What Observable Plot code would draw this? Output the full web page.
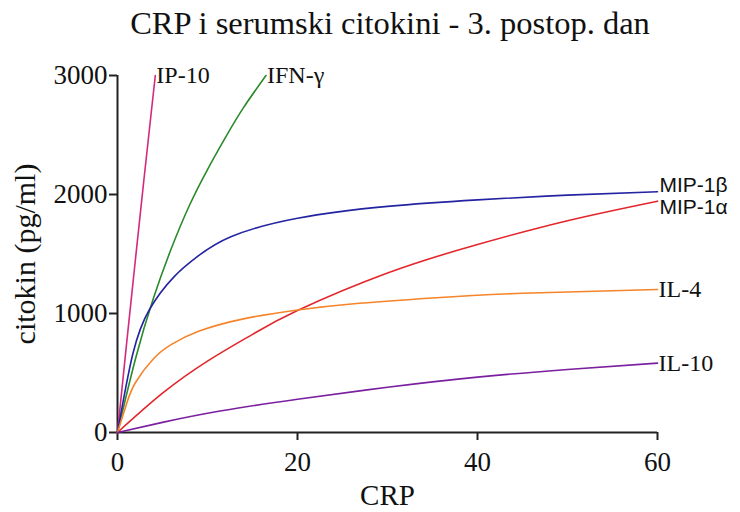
<!DOCTYPE html>
<html><head><meta charset="utf-8">
<script src="https://cdn.jsdelivr.net/npm/d3@7"></script>
<script src="https://cdn.jsdelivr.net/npm/@observablehq/plot@0.6"></script>
<style>
body{margin:0;background:#fff;}
#title{box-sizing:border-box;width:740px;height:50px;font:32.5px "Liberation Serif",serif;line-height:46px;text-align:center;padding-left:40px;color:#111;}
</style></head><body>
<div id="title">CRP i serumski citokini - 3. postop. dan</div>
<div id="chart"></div>
<script>
const seriesNames = ["IP-10", "IFN-γ", "MIP-1β", "MIP-1α", "IL-4", "IL-10"];
const seriesColors = ["#d12a7e", "#2b8a2b", "#2424a2", "#e3262b", "#f5842a", "#7a1fa0"];

const ip10X = [0, 1, 2, 3, 4.2];
const ip10Y = [0, 740, 1460, 2170, 3000];
const ifngX = [0, 2, 4, 6, 8, 10, 12, 14, 16.5];
const ifngY = [0, 620, 1130, 1550, 1910, 2210, 2480, 2730, 3000];
const mip1bX = [0, 1.7, 3.6, 6.3, 8.9, 12.6, 20, 30, 40, 50, 60];
const mip1bY = [0, 660, 1040, 1310, 1480, 1645, 1800, 1900, 1955, 1995, 2023];
const mip1aX = [0, 5, 10, 15, 20, 30, 40, 50, 60];
const mip1aY = [0, 330, 600, 825, 1025, 1340, 1580, 1780, 1944];
const il4X = [0, 1, 2, 4, 6, 9, 14, 20, 26, 35, 45, 60];
const il4Y = [0, 240, 420, 620, 740, 850, 955, 1030, 1080, 1130, 1170, 1202];
const il10X = [0, 5, 11.4, 20, 30, 40, 50, 60];
const il10Y = [0, 85, 180, 280, 380, 465, 530, 583];

const xTicks = [0, 20, 40, 60];
const yTicks = [0, 1000, 2000, 3000];

const seriesX = [ip10X, ifngX, mip1bX, mip1aX, il4X, il10X];
const seriesY = [ip10Y, ifngY, mip1bY, mip1aY, il4Y, il10Y];
const rows = seriesNames.flatMap((name, i) => seriesX[i].map((x, j) => ({name, x, y: seriesY[i][j]})));
const ends = seriesNames.map((name, i) => ({name, x: seriesX[i][seriesX[i].length - 1], y: seriesY[i][seriesY[i].length - 1]}));
const serifLabels = ["IP-10", "IFN-γ", "IL-4", "IL-10"];

const serif = "Liberation Serif";
const sans = "Liberation Sans";

const chart = Plot.plot({
  width: 740,
  height: 462,
  marginTop: 25,
  marginBottom: 80,
  marginLeft: 117,
  marginRight: 83,
  style: {fontFamily: serif, color: "#111", background: "#fff"},
  x: {domain: [0, 60]},
  y: {domain: [0, 3000]},
  color: {domain: seriesNames, range: seriesColors},
  marks: [
    Plot.axisX({ticks: xTicks, tickSize: 8, tickPadding: 11, fontSize: 27, stroke: "#222", strokeWidth: 2, fill: "#111", label: null, tickFormat: d => String(d)}),
    Plot.axisY({ticks: yTicks, tickSize: 8, tickPadding: 2, fontSize: 27, stroke: "#222", strokeWidth: 2, fill: "#111", label: null, tickFormat: d => String(d)}),
    Plot.ruleY([0], {x1: 0, x2: 60, stroke: "#222", strokeWidth: 2}),
    Plot.ruleX([0], {y1: 0, y2: 3000, stroke: "#222", strokeWidth: 2}),
    Plot.line(rows, {x: "x", y: "y", z: "name", stroke: "name", curve: "natural", strokeWidth: 1.6}),
    Plot.text(ends.filter(d => serifLabels.includes(d.name)), {x: "x", y: "y", text: "name", textAnchor: "start", dx: 1, fontSize: 24, fontFamily: serif, fill: "#111"}),
    Plot.text(ends.filter(d => d.name === "MIP-1β"), {x: "x", y: "y", text: "name", textAnchor: "start", dx: 2, dy: -6, fontSize: 21, fontFamily: sans, fill: "#111"}),
    Plot.text(ends.filter(d => d.name === "MIP-1α"), {x: "x", y: "y", text: "name", textAnchor: "start", dx: 2, dy: 6, fontSize: 21, fontFamily: sans, fill: "#111"}),
    Plot.text(["citokin (pg/ml)"], {text: d => d, frameAnchor: "left", textAnchor: "middle", dx: -92, dy: 0, rotate: -90, fontSize: 30, fontFamily: serif, fill: "#111"}),
    Plot.text(["CRP"], {text: d => d, frameAnchor: "bottom", textAnchor: "middle", dy: 72, fontSize: 29, fontFamily: serif, fill: "#111"})
  ]
});
document.getElementById("chart").appendChild(chart);
</script></body></html>
